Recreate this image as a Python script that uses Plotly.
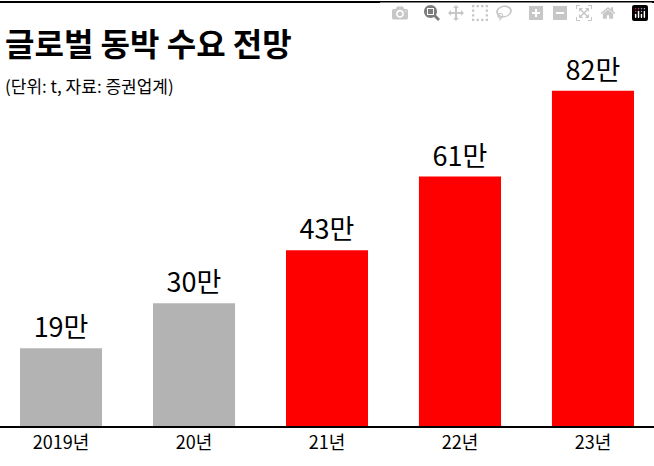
import plotly.graph_objects as go

categories = ["2019년", "20년", "21년", "22년", "23년"]
values = [19, 30, 43, 61, 82]
labels = ["19만", "30만", "43만", "61만", "82만"]
colors = ["#b3b3b3", "#b3b3b3", "#ff0000", "#ff0000", "#ff0000"]

W, H = 654, 466
top, bot = 58, 40
ph = H - top - bot
def py(pix):
    return (H - bot - pix) / ph

fig = go.Figure(go.Bar(
    x=list(range(len(categories))), y=values, marker_color=colors, marker_line_width=0,
    text=labels, textposition="outside", cliponaxis=False,
    textfont=dict(family="Noto Sans CJK KR", size=27, color="black"),
))
fig.update_layout(
    width=W, height=H, margin=dict(l=0, r=0, t=top, b=bot),
    plot_bgcolor="white", paper_bgcolor="white", showlegend=False, bargap=0.383,
    xaxis=dict(range=[-0.459, 4.459], tickmode="array", tickvals=list(range(len(categories))),
               ticktext=categories, showgrid=False, zeroline=False, showline=False, ticks="",
               tickfont=dict(family="Noto Sans CJK KR", size=18, color="black")),
    yaxis=dict(range=[0, 90], visible=False),
    font=dict(family="Noto Sans CJK KR"),
    shapes=[
        dict(type="line", xref="paper", yref="paper", x0=0, x1=1, y0=py(2), y1=py(2),
             line=dict(color="black", width=2)),
        dict(type="line", xref="paper", yref="paper", x0=0, x1=1, y0=py(427), y1=py(427),
             line=dict(color="black", width=2)),
    ],
    annotations=[
        dict(text="<b>글로벌 동박 수요 전망</b>", xref="paper", yref="paper", x=0.005, y=py(42),
             xanchor="left", yanchor="middle", showarrow=False,
             font=dict(family="Noto Sans CJK KR", size=32, color="black")),
        dict(text="(단위: t, 자료: 증권업계)", xref="paper", yref="paper", x=0.005, y=py(85),
             xanchor="left", yanchor="middle", showarrow=False,
             font=dict(family="Noto Sans CJK KR", size=17, color="black")),
    ],
)
fig.update_xaxes(ticklabelstandoff=4)
fig.write_html("out.html", post_script="document.body.style.margin='0';")
